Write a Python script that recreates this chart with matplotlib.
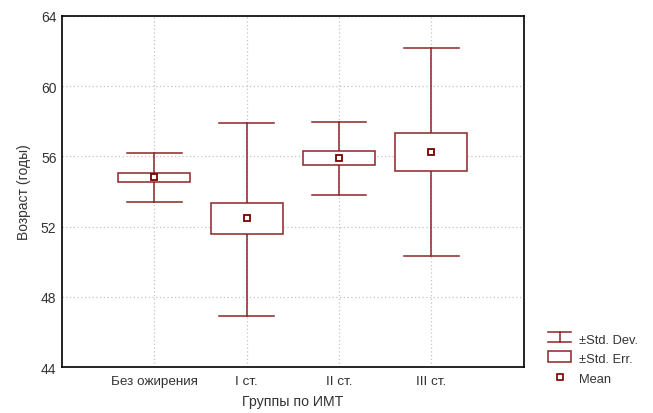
import matplotlib
matplotlib.use("Agg")
import matplotlib.pyplot as plt
from matplotlib.lines import Line2D
from matplotlib.patches import Rectangle
from matplotlib.legend_handler import HandlerBase

plt.rcParams["font.family"] = ["Liberation Sans", "DejaVu Sans"]

groups = ["Без ожирения", "I ст.", "II ст.", "III ст."]
means = [54.81, 52.47, 55.93, 56.25]
se_low = [54.56, 51.58, 55.51, 55.15]
se_high = [55.05, 53.34, 56.33, 57.33]
sd_low = [53.42, 46.92, 53.82, 50.34]
sd_high = [56.19, 57.90, 57.98, 62.18]

col = "#8b2424"
txt = "#333333"

fig = plt.figure(figsize=(6.53, 4.14), dpi=100)
ax = fig.add_axes([0.095, 0.111, 0.707, 0.848])

box_w = 0.78
cap_w = 0.59
for i, g in enumerate(groups):
    x = i + 1
    ax.plot([x, x], [sd_low[i], se_low[i]], color=col, lw=1.1, zorder=3)
    ax.plot([x, x], [se_high[i], sd_high[i]], color=col, lw=1.1, zorder=3)
    ax.plot([x - cap_w / 2, x + cap_w / 2], [sd_low[i]] * 2, color=col, lw=1.1, zorder=3)
    ax.plot([x - cap_w / 2, x + cap_w / 2], [sd_high[i]] * 2, color=col, lw=1.1, zorder=3)
    ax.add_patch(Rectangle((x - box_w / 2, se_low[i]), box_w, se_high[i] - se_low[i],
                           facecolor="white", edgecolor=col, lw=1.1, zorder=3))
    ax.plot(x, means[i], marker="s", ms=5, mfc="white", mec="#7a0000", mew=1.3, zorder=4)

ax.set_xlim(0, 5)
ax.set_ylim(44, 64)
ax.set_xticks(range(1, len(groups) + 1))
ax.set_xticklabels(groups, fontsize=9.7, color=txt)
ax.set_yticks([44, 48, 52, 56, 60, 64])
ax.tick_params(axis="y", labelsize=10, length=0, pad=4, labelcolor=txt)
ax.tick_params(axis="x", length=0, pad=6)
ax.grid(True, ls=(0, (1, 2)), color="#c4c4c4", lw=0.9)
ax.set_axisbelow(True)
for s in ax.spines.values():
    s.set_linewidth(1.2)
ax.set_xlabel("Группы по ИМТ", fontsize=10.2, labelpad=5, color=txt)
ax.set_ylabel("Возраст (годы)", fontsize=10, labelpad=7, color=txt)


class SDHandler(HandlerBase):
    def create_artists(self, legend, orig, xd, yd, w, h, fs, trans):
        cx = xd + w / 2
        a = Line2D([xd, xd + w], [yd + h, yd + h], color=col, lw=1.1)
        b = Line2D([xd, xd + w], [yd, yd], color=col, lw=1.1)
        c = Line2D([cx, cx], [yd, yd + h], color=col, lw=1.1)
        for art in (a, b, c):
            art.set_transform(trans)
        return [a, b, c]


class SEHandler(HandlerBase):
    def create_artists(self, legend, orig, xd, yd, w, h, fs, trans):
        r = Rectangle((xd, yd), w, h, facecolor="white", edgecolor=col, lw=1.1, transform=trans)
        return [r]


sd_proxy = Line2D([], [])
se_proxy = Rectangle((0, 0), 1, 1)
mean_proxy = Line2D([], [], ls="", marker="s", ms=4.5, mfc="white", mec="#7a0000", mew=1.2)
leg = fig.legend([sd_proxy, se_proxy, mean_proxy], ["±Std. Dev.", "±Std. Err.", "Mean"],
                 handler_map={sd_proxy: SDHandler(), se_proxy: SEHandler()},
                 loc="upper left", bbox_to_anchor=(0.830, 0.209), frameon=False,
                 fontsize=9.3, handlelength=1.75, handleheight=0.85, labelspacing=0.55,
                 handletextpad=0.6, borderpad=0)
for t in leg.get_texts():
    t.set_color(txt)

fig.savefig("out.png", dpi=100)
